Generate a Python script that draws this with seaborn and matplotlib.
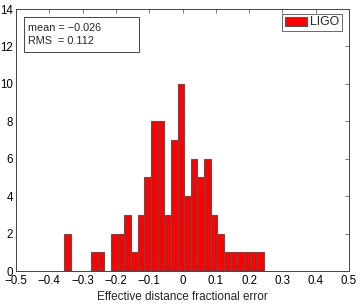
import matplotlib
matplotlib.use("Agg")
import matplotlib.pyplot as plt
import seaborn as sns
import numpy as np
import pandas as pd
from matplotlib.patches import Rectangle

# ---- data ----
bin_lo = -0.355
bin_width = 0.02
counts = [2, 0, 0, 0, 1, 1, 0, 2, 2, 3, 1, 3, 5, 8, 8, 3, 7, 10, 4, 6,
          5, 6, 3, 2, 1, 1, 1, 1, 1, 1]
xticks = [-0.5, -0.4, -0.3, -0.2, -0.1, 0, 0.1, 0.2, 0.3, 0.4, 0.5]
xtick_labels = ["\u22120.5", "\u22120.4", "\u22120.3", "\u22120.2", "\u22120.1",
                "0", "0.1", "0.2", "0.3", "0.4", "0.5"]
yticks = [0, 2, 4, 6, 8, 10, 12, 14]
stats_text = "mean = \u22120.026\nRMS  = 0.112"
legend_label = "LIGO"
xlabel = "Effective distance fractional error"

n_bins = len(counts)
edges = bin_lo + bin_width * np.arange(n_bins + 1)
centers = (edges[:-1] + edges[1:]) / 2
df = pd.DataFrame({"x": centers, "w": counts})

sns.set_style("white")
plt.rcParams['font.family'] = ['Liberation Sans', 'DejaVu Sans']

fig = plt.figure(figsize=(3.6, 3.06), dpi=100)
ax = fig.add_axes([16/360, 1 - 271/306, 333/360, 262/306])

sns.histplot(data=df, x="x", weights="w", bins=n_bins,
             binrange=(float(edges[0]), float(edges[-1])), ax=ax,
             color="#ff0000", edgecolor="#555555", linewidth=0.8,
             alpha=1.0, label=legend_label)

ax.set_xlim(-0.5, 0.5)
ax.set_ylim(0, 14)
ax.set_xticks(xticks)
ax.set_xticklabels(xtick_labels)
ax.set_yticks(yticks)
ax.set_ylabel("")
ax.set_xlabel(xlabel, fontsize=8.5, labelpad=3)
ax.tick_params(direction="in", length=3, width=0.5, top=True, right=True,
               labelsize=8.3, pad=2, colors="#000000")
ax.tick_params(axis="x", pad=3)
ax.tick_params(color="#444444")
for s in ax.spines.values():
    s.set_visible(True)
    s.set_color("#444444")
    s.set_linewidth(0.7)

# stats box
ax.add_patch(Rectangle(((24-16)/333, (271-52)/262), (139-24)/333, (52-17)/262,
                       transform=ax.transAxes, facecolor="white",
                       edgecolor="#444444", linewidth=0.7, zorder=5))
ax.text((28-16)/333, (271-34.5)/262, stats_text, transform=ax.transAxes,
        fontsize=7.8, va="center", ha="left", zorder=6, linespacing=1.3)

leg = ax.legend(loc="upper right", fontsize=8.8, frameon=True, fancybox=False,
                bbox_to_anchor=((342-16)/333, (271-14)/262), borderaxespad=0,
                handlelength=1.85, handleheight=0.72,
                handletextpad=0.25, borderpad=0.2)
leg.get_frame().set_edgecolor("#444444")
leg.get_frame().set_linewidth(0.7)

fig.savefig("out.png", dpi=100)
